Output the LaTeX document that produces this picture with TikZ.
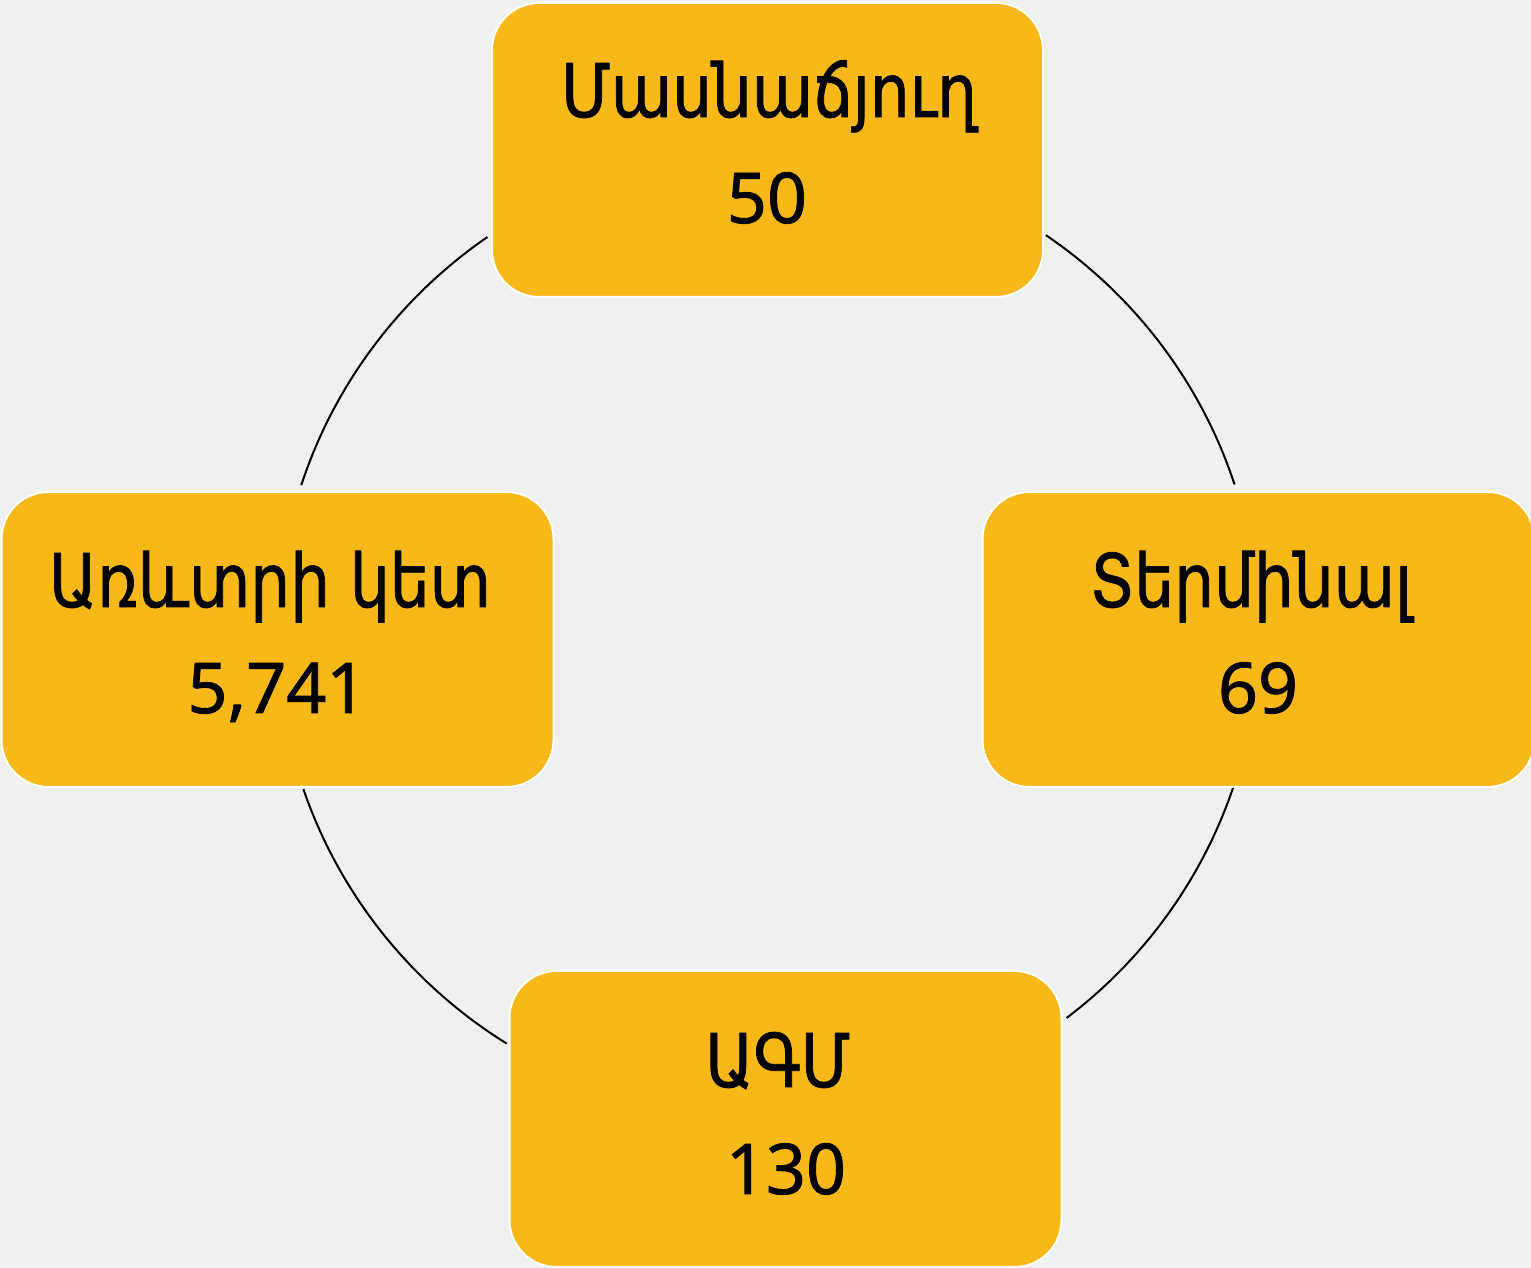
\documentclass[tikz,border=0pt]{standalone}
\usepackage{fontspec}
\newfontfamily\armfont[FakeStretch=0.85,FakeBold=1]{DejaVu Sans}
\newfontfamily\numfont[FakeBold=1.2]{Noto Sans}
\definecolor{bgcol}{HTML}{EFF1F0}
\definecolor{boxcol}{HTML}{F8B818}
\begin{document}
\begin{tikzpicture}[x=0.5pt,y=0.5pt,
  stage/.style={draw=white, line width=1pt, fill=boxcol, rounded corners=23.5pt,
    minimum width=276pt, minimum height=147.5pt, inner sep=0pt},
  ttl/.style={font=\armfont\fontsize{37}{44}\selectfont, anchor=base, inner sep=0pt},
  num/.style={font=\numfont\fontsize{35}{42}\selectfont, anchor=base, inner sep=0pt},
  cyc/.style={line width=1pt, black}]
\fill[bgcol] (0,0) rectangle (1531,1268);
\useasboundingbox (0,0) rectangle (1531,1268);
\coordinate (ctr) at (768,634);
% arcs
\draw[cyc] (ctr) ++(124.9:245.25pt and 242pt) arc[start angle=124.9, end angle=162.1, x radius=245.25pt, y radius=242pt];
\draw[cyc] (ctr) ++(55.5:245.25pt and 242pt) arc[start angle=55.5, end angle=18.0, x radius=245.25pt, y radius=242pt];
\draw[cyc] (ctr) ++(-18.4:245.25pt and 242pt) arc[start angle=-18.4, end angle=-52.5, x radius=245.25pt, y radius=242pt];
\draw[cyc] (ctr) ++(198.7:245.25pt and 242pt) arc[start angle=198.7, end angle=237.8, x radius=245.25pt, y radius=242pt];
% boxes
\node[stage, minimum width=275.5pt, minimum height=147pt] (top) at (767.5,1118) {};
\node[stage] (left) at (277.5,628.5) {};
\node[stage] (right) at (1258.5,628.5) {};
\node[stage, minimum height=148pt] (bottom) at (785.5,149) {};
% labels
\node[ttl] (topT) at (769,1151) {Մասնաճյուղ};
\node[num] (topN) at (767,1045) {50};
\node[ttl] (leftT) at (270,661) {Առևտրի կետ};
\node[num] (leftN) at (277,555) {5,741};
\node[ttl] (rightT) at (1251,661) {Տերմինալ};
\node[num] (rightN) at (1258,555) {69};
\node[ttl] (botT) at (778,181) {ԱԳՄ};
\node[num] (botN) at (786,74) {130};
\end{tikzpicture}
\end{document}
